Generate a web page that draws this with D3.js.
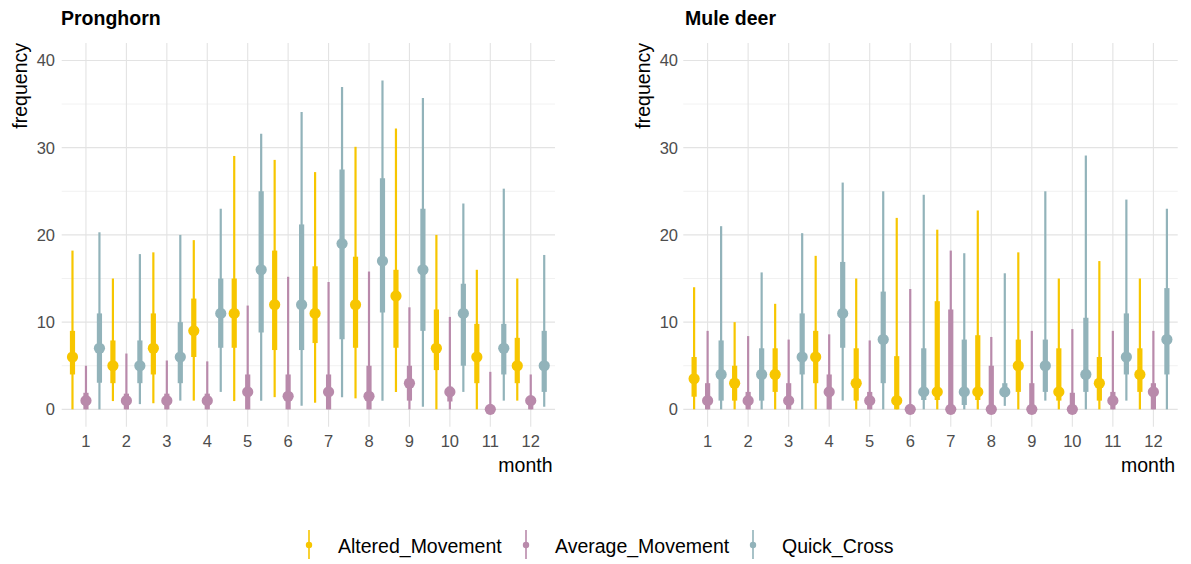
<!DOCTYPE html>
<html>
<head>
<meta charset="utf-8">
<script src="https://cdn.jsdelivr.net/npm/d3@7"></script>
<style>
  html, body { margin: 0; padding: 0; background: #fff; }
  svg { display: block; font-family: "Liberation Sans", Arial, sans-serif; }
</style>
</head>
<body>
<svg id="chart" width="1191" height="564"></svg>
<script>
// ---------- data ----------
const months = [1, 2, 3, 4, 5, 6, 7, 8, 9, 10, 11, 12];
const seriesNames = ["Altered_Movement", "Average_Movement", "Quick_Cross"];
const seriesColors = ["#F7C600", "#B98AAB", "#92B3BA"];
const yTicks = [0, 10, 20, 30, 40];
const yMinor = [5, 15, 25, 35];
const panelTitles = ["Pronghorn", "Mule deer"];

// each entry: [lower95, lower66, median, upper66, upper95]
const pronghornAltered = [
  [0, 4.0, 6, 9.0, 18.2], [0.95, 3.0, 5, 7.9, 15.0], [0.7, 4.0, 7, 11.0, 18.0],
  [1.0, 6.0, 9, 12.7, 19.4], [0.95, 7.06, 11, 15.0, 29.05], [1.4, 6.8, 12, 18.2, 28.6],
  [0.76, 7.6, 11, 16.4, 27.2], [1.26, 7.06, 12, 17.5, 30.1], [2.0, 7.06, 13, 16.0, 32.2],
  [0, 4.5, 7, 11.45, 20.0], [0, 3.0, 6, 9.8, 16.0], [1.0, 3.0, 5, 8.2, 15.0]
];
const pronghornAverage = [
  [0, 0, 1, 1.9, 5.0], [0, 0, 1, 1.8, 6.4], [0, 0, 1, 1.8, 5.6],
  [0, 0, 1, 1.8, 5.5], [0, 0, 2, 4.0, 11.9], [0, 0, 1.5, 4.0, 15.2],
  [0, 0, 2, 4.0, 14.6], [0, 0, 1.5, 5.0, 15.8], [0, 1.0, 3, 5.0, 11.7],
  [0, 0.9, 2, 2.6, 10.6], [0, 0, 0, 0.3, 4.3], [0, 0, 1, 1.3, 4.0]
];
const pronghornQuick = [
  [0, 3.05, 7, 11.0, 20.3], [0.6, 3.0, 5, 7.9, 17.8], [1.0, 3.0, 6, 10.0, 20.0],
  [2.0, 7.06, 11, 15.0, 23.0], [1.0, 8.8, 16, 25.0, 31.6], [0.4, 6.8, 12, 21.2, 34.1],
  [1.4, 8.05, 19, 27.5, 36.95], [1.0, 11.1, 17, 26.5, 37.7], [0.3, 9.0, 16, 23.0, 35.7],
  [2.0, 5.0, 11, 14.4, 23.6], [1.0, 4.0, 7, 9.8, 25.3], [0.3, 2.0, 5, 9.0, 17.7]
];
const muleAltered = [
  [0, 1.45, 3.5, 6.0, 14.0], [0, 1.0, 3, 5.0, 10.0], [0, 2.0, 4, 7.0, 12.1],
  [0, 3.0, 6, 9.0, 17.6], [0, 1.0, 3, 7.0, 15.0], [0, 0, 1, 6.1, 21.95],
  [0, 1.07, 2, 12.4, 20.6], [0, 1.07, 2, 8.5, 22.8], [0, 2.0, 5, 8.0, 18.0],
  [0, 1.0, 2, 7.0, 15.0], [0, 1.0, 3, 6.0, 17.0], [0, 2.0, 4, 7.0, 15.0]
];
const muleAverage = [
  [0, 0, 1, 3.0, 9.0], [0, 0, 1, 2.0, 8.4], [0, 0, 1, 3.0, 8.0],
  [0, 0, 2, 4.0, 8.6], [0, 0, 1, 2.0, 7.9], [0, 0, 0, 0.5, 13.8],
  [0, 0, 0, 11.45, 18.2], [0, 0, 0, 5.0, 8.3], [0, 0, 0, 3.0, 9.0],
  [0, 0, 0, 1.9, 9.2], [0, 0, 1, 2.0, 9.0], [0, 0, 2, 3.0, 9.0]
];
const muleQuick = [
  [0, 1.0, 4, 7.9, 21.0], [0, 1.0, 4, 7.0, 15.7], [0, 4.0, 6, 11.0, 20.2],
  [1.0, 7.06, 11, 16.9, 26.0], [0, 3.0, 8, 13.5, 25.0], [0, 1.07, 2, 7.0, 24.6],
  [0, 0.5, 2, 8.0, 17.9], [0.4, 1.45, 2, 3.0, 15.6], [1.0, 2.0, 5, 8.0, 25.0],
  [0, 2.0, 4, 10.5, 29.1], [1.0, 4.0, 6, 11.0, 24.05], [0, 4.0, 8, 13.9, 23.0]
];

const panelsData = [
  [pronghornAltered, pronghornAverage, pronghornQuick],
  [muleAltered, muleAverage, muleQuick]
];

// ---------- layout ----------
const svg = d3.select("#chart");
const panelBoxes = [
  { x0: 61.7, x1: 555, yTickX: 55, freqX: 27, title: 61 },
  { x0: 683.3, x1: 1177.7, yTickX: 678, freqX: 650, title: 685 }
];
const plotTop = 43, plotBottom = 426.8;
const y = d3.scaleLinear().domain([-2, 42]).range([plotBottom, plotTop]);

panelBoxes.forEach((pb, pi) => {
  const g = svg.append("g");
  const x = d3.scalePoint().domain(months).range([pb.x0, pb.x1]).padding(0.6);
  const step = x.step();
  const dodge = d3.scalePoint().domain(seriesNames).range([-step / 3, step / 3]);

  // grid
  g.selectAll(".ymin").data(yMinor).join("line")
    .attr("x1", pb.x0).attr("x2", pb.x1)
    .attr("y1", d => y(d)).attr("y2", d => y(d))
    .attr("stroke", "#EEEEEE").attr("stroke-width", 0.8);
  g.selectAll(".ymaj").data(yTicks).join("line")
    .attr("x1", pb.x0).attr("x2", pb.x1)
    .attr("y1", d => y(d)).attr("y2", d => y(d))
    .attr("stroke", "#E3E3E3").attr("stroke-width", 1.1);
  g.selectAll(".xmaj").data(months).join("line")
    .attr("x1", d => x(d)).attr("x2", d => x(d))
    .attr("y1", plotTop).attr("y2", plotBottom)
    .attr("stroke", "#E3E3E3").attr("stroke-width", 1.1);

  // tick labels
  g.selectAll(".ytl").data(yTicks).join("text")
    .attr("x", pb.yTickX).attr("y", d => y(d)).attr("dy", "0.36em")
    .attr("text-anchor", "end").attr("font-size", 16.5).attr("fill", "#4D4D4D")
    .text(d => d);
  g.selectAll(".xtl").data(months).join("text")
    .attr("x", d => x(d)).attr("y", 446.5)
    .attr("text-anchor", "middle").attr("font-size", 16.5).attr("fill", "#4D4D4D")
    .text(d => d);

  // axis titles
  g.append("text").attr("transform", `translate(${pb.freqX},${plotTop}) rotate(-90)`)
    .attr("text-anchor", "end").attr("font-size", 19.5).attr("fill", "#000")
    .text("frequency");
  g.append("text").attr("x", pb.x1 - 2.5).attr("y", 471.5)
    .attr("text-anchor", "end").attr("font-size", 19.5).attr("fill", "#000")
    .text("month");
  g.append("text").attr("x", pb.title).attr("y", 24.5)
    .attr("font-size", 19.5).attr("font-weight", "bold").attr("fill", "#000")
    .text(panelTitles[pi]);

  // marks
  seriesNames.forEach((s, si) => {
    const arr = panelsData[pi][si];
    const col = seriesColors[si];
    const sg = g.append("g");
    const cx = (d, i) => x(months[i]) + dodge(s);
    sg.selectAll(".thin").data(arr).join("line")
      .attr("x1", cx).attr("x2", cx)
      .attr("y1", d => y(d[0])).attr("y2", d => y(d[4]))
      .attr("stroke", col).attr("stroke-width", 2.2);
    sg.selectAll(".thick").data(arr).join("line")
      .attr("x1", cx).attr("x2", cx)
      .attr("y1", d => y(d[1])).attr("y2", d => y(d[3]))
      .attr("stroke", col).attr("stroke-width", 5.2);
    sg.selectAll(".pt").data(arr).join("circle")
      .attr("cx", cx).attr("cy", d => y(d[2])).attr("r", 5.6)
      .attr("fill", col);
  });
});

// ---------- legend ----------
const legendX = [309, 526, 753];
const lg = svg.append("g");
seriesNames.forEach((s, i) => {
  const gx = legendX[i];
  lg.append("line").attr("x1", gx).attr("x2", gx).attr("y1", 530).attr("y2", 559)
    .attr("stroke", seriesColors[i]).attr("stroke-width", 1.6);
  lg.append("circle").attr("cx", gx).attr("cy", 545).attr("r", 3.2).attr("fill", seriesColors[i]);
  lg.append("text").attr("x", gx + 29).attr("y", 552.5)
    .attr("font-size", 19.5).attr("fill", "#000").text(s);
});
</script>
</body>
</html>
